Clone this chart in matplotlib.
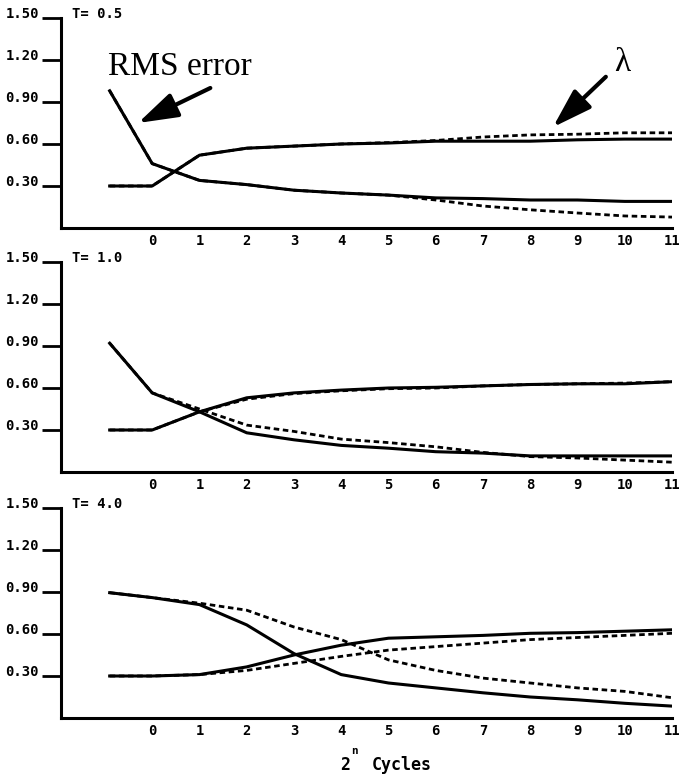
import numpy as np
import matplotlib
matplotlib.use('Agg')
import matplotlib.pyplot as plt

# log2 of the number of cycles (first point is the starting value)
cycles = [-0.9, 0, 1, 2, 3, 4, 5, 6, 7, 8, 9, 10, 11]
temps = ['T= 0.5', 'T= 1.0', 'T= 4.0']

# RMS error and lambda, solid = first run, dashed = second run
rms_solid = [
    [0.98, 0.46, 0.34, 0.31, 0.27, 0.25, 0.235, 0.215, 0.21, 0.20, 0.20, 0.19, 0.19],
    [0.92, 0.565, 0.43, 0.28, 0.23, 0.19, 0.17, 0.145, 0.135, 0.115, 0.115, 0.115, 0.115],
    [0.895, 0.86, 0.81, 0.665, 0.46, 0.31, 0.25, 0.215, 0.18, 0.15, 0.13, 0.105, 0.085],
]
rms_dashed = [
    [0.98, 0.46, 0.34, 0.31, 0.27, 0.25, 0.235, 0.20, 0.157, 0.13, 0.107, 0.086, 0.078],
    [0.92, 0.565, 0.45, 0.335, 0.29, 0.235, 0.21, 0.18, 0.14, 0.11, 0.10, 0.085, 0.07],
    [0.895, 0.86, 0.82, 0.77, 0.65, 0.56, 0.415, 0.34, 0.285, 0.25, 0.215, 0.19, 0.145],
]
lam_solid = [
    [0.30, 0.30, 0.52, 0.57, 0.585, 0.60, 0.607, 0.62, 0.62, 0.62, 0.63, 0.635, 0.635],
    [0.30, 0.30, 0.43, 0.53, 0.565, 0.585, 0.60, 0.605, 0.615, 0.625, 0.63, 0.63, 0.645],
    [0.30, 0.30, 0.31, 0.365, 0.45, 0.52, 0.57, 0.58, 0.59, 0.605, 0.61, 0.62, 0.63],
]
lam_dashed = [
    [0.30, 0.30, 0.52, 0.57, 0.585, 0.60, 0.61, 0.625, 0.65, 0.665, 0.67, 0.68, 0.68],
    [0.30, 0.30, 0.43, 0.52, 0.56, 0.58, 0.595, 0.60, 0.615, 0.625, 0.63, 0.635, 0.645],
    [0.30, 0.30, 0.31, 0.34, 0.39, 0.44, 0.485, 0.51, 0.535, 0.56, 0.575, 0.59, 0.605],
]

W, H = 679, 779
fig = plt.figure(figsize=(W/100, H/100), dpi=100)
mono = dict(family='DejaVu Sans Mono', weight='bold', size=10)

left, right = 61, 672
bottoms = [228, 472, 718]
axes = []
for i, b in enumerate(bottoms):
    ax = fig.add_axes([left/W, 1 - b/H, (right-left)/W, 210/H])
    ax.plot(cycles, rms_solid[i], color='black', lw=2.2)
    ax.plot(cycles, lam_solid[i], color='black', lw=2.2)
    ax.plot(cycles, rms_dashed[i], color='black', lw=2.0, ls=(0, (2, 1.3)))
    ax.plot(cycles, lam_dashed[i], color='black', lw=2.0, ls=(0, (2, 1.3)))
    ax.set_xlim(-1.93, 11.0)
    ax.set_ylim(0, 1.5)
    ax.set_yticks([0.30, 0.60, 0.90, 1.20, 1.50])
    ax.set_yticklabels(['0.30', '0.60', '0.90', '1.20', '1.50'], fontdict=mono)
    # labels sit on the tick line
    for lab in ax.get_yticklabels():
        lab.set_va('baseline')
    ax.set_xticks(range(0, 12))
    ax.set_xticklabels([str(k) for k in range(0, 12)], fontdict=mono)
    ax.tick_params(axis='y', length=14, width=2, pad=2)
    ax.tick_params(axis='x', length=0, pad=4)
    for s in ['top', 'right']:
        ax.spines[s].set_visible(False)
    for s in ['left', 'bottom']:
        ax.spines[s].set_linewidth(2.2)
    ax.text(0.018, 1.0, temps[i], transform=ax.transAxes, va='baseline', ha='left', fontdict=mono)
    axes.append(ax)

# annotations on the top panel
arrow = dict(arrowstyle='-|>,head_length=1.1,head_width=0.35', lw=3,
             color='black', mutation_scale=22, shrinkA=0, shrinkB=0)
ax = axes[0]
ax.text(-0.93, 1.15, 'RMS error', family='Liberation Serif', fontsize=24, va='center', ha='left')
ax.annotate('', xy=(-0.30, 0.75), xytext=(1.23, 1.0), arrowprops=arrow)
ax.text(9.94, 1.18, '\u03bb', family='Liberation Serif', fontsize=24, va='center', ha='center')
ax.annotate('', xy=(8.48, 0.72), xytext=(9.6, 1.08), arrowprops=arrow)

# x label: 2^n Cycles
big = dict(family='DejaVu Sans Mono', weight='bold', size=12)
fig.text(340/W, 1 - 765/H, '2', va='center', ha='left', **big)
fig.text(351/W, 1 - 751/H, 'n', va='center', ha='left', family='DejaVu Sans Mono', weight='bold', size=8)
fig.text(372/W, 1 - 765/H, 'Cycles', va='center', ha='left', **big)

plt.savefig('out.png', dpi=100)
